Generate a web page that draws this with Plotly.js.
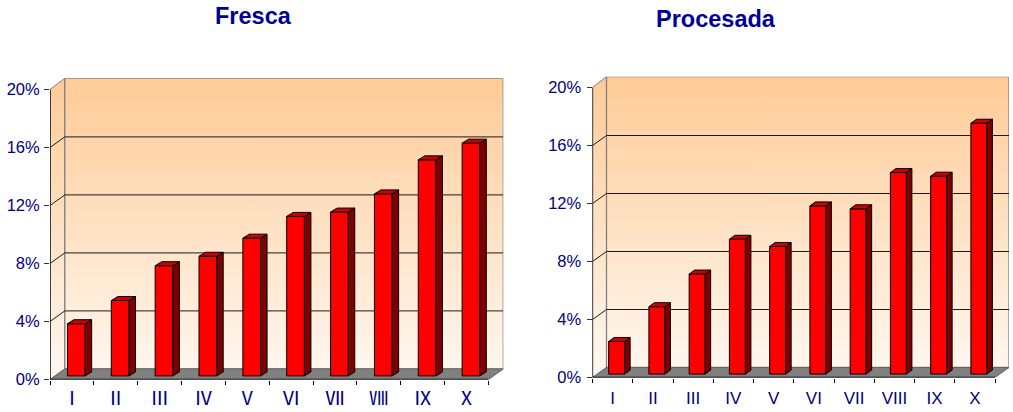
<!DOCTYPE html>
<html>
<head>
<meta charset="utf-8">
<script src="https://cdn.plot.ly/plotly-3.0.1.min.js"></script>
<style>html,body{margin:0;padding:0;background:#fff}#chart{width:1013px;height:412px}</style>
</head>
<body>
<div id="chart"></div>
<script>
var titleFresca = 'Fresca';
var titleProcesada = 'Procesada';
var labelsFresca = ['Ⅰ','Ⅱ','Ⅲ','Ⅳ','V','Ⅵ','Ⅶ','Ⅷ','Ⅸ','Ⅹ'];
var labelsProcesada = ['I','II','III','IV','V','VI','VII','VIII','IX','X'];
var valuesFresca = [3.6,5.2,7.6,8.25,9.5,11.0,11.3,12.55,14.9,16.05];
var valuesProcesada = [2.25,4.65,6.9,9.3,8.8,11.6,11.4,13.9,13.65,17.3];
var yTicks = [0,4,8,12,16,20];
var yTickText = ['0%','4%','8%','12%','16%','20%'];

var W = 1013, H = 412, NAVY = '#000080';
var traces = [], annotations = [];
var layout = {
  width: W, height: H, margin: {l:0,r:0,t:0,b:0,pad:0},
  paper_bgcolor: '#fff', plot_bgcolor: 'rgba(0,0,0,0)',
  showlegend: false, hovermode: false, barmode: 'overlay',
  font: {family: '"Liberation Sans", Arial, sans-serif', color: NAVY}
};

function panel(n, o) {
  var sx = n === 0 ? 'x' : 'x2', sy = n === 0 ? 'y' : 'y2';
  var ox = n === 0 ? 'x3' : 'x4', oy = n === 0 ? 'y3' : 'y4';
  var catW = (o.frontRight - o.left) / 10, pct = o.pxPerPct;
  var dx = (o.backRight - o.frontRight) / catW, dy = o.depthY / pct;
  var xMax = (o.backRight - o.left) / catW, yMax = (o.bottom - o.top) / pct;
  var xDom = [o.left / W, o.backRight / W], yDom = [(H - o.bottom) / H, (H - o.top) / H];

  function poly(xs, ys, extra) {
    var t = {type:'scatter', mode:'lines', x:xs, y:ys, xaxis:sx, yaxis:sy, cliponaxis:false, hoverinfo:'skip'};
    for (var k in extra) t[k] = extra[k];
    traces.push(t);
  }
  var grad = {type:'vertical', start:0, stop:yMax,
    colorscale:[[0,'#FFF8F1'],[1,'#FFCB97']]};
  poly([0,dx,dx,0,0],[0,dy,yMax,20,0], {fill:'toself', fillgradient:grad, line:{color:'#808080',width:1}});
  poly([dx,xMax,xMax,dx,dx],[dy,dy,yMax,yMax,dy], {fill:'toself', fillgradient:grad, line:{color:'#808080',width:1.3}});
  yTicks.slice(1,5).forEach(function(v){
    poly([0,dx,xMax],[v,v+dy,v+dy],{line:{color:'#1a1a1a',width:1}});
  });
  poly([0,10,xMax,dx,0],[0,0,dy,dy,0],{fill:'toself',fillcolor:'#808080',line:{color:'#666',width:1}});
  poly([0,0],[0,20],{line:{color:'#000',width:1.3}});
  poly([0,10],[0,0],{line:{color:'#000',width:1.3}});

  var bw = o.barPx / catW, sh = 0.1, bs = o.barBase / pct;
  var ddx = o.sidePx / catW, ddy = 4 / pct;
  var cx = o.values.map(function(_, i){ return i + 0.5 + sh; });
  traces.push({type:'bar', x:cx, y:o.values, base:o.values.map(function(){return bs;}), width:bw,
    xaxis:ox, yaxis:oy, marker:{color:'#FF0000', line:{color:'#000',width:1}}, hoverinfo:'skip'});
  var sX=[],sY=[],tX=[],tY=[];
  o.values.forEach(function(v,i){
    var l=cx[i]-bw/2, r=cx[i]+bw/2, top=bs+v;
    sX.push(r,r+ddx,r+ddx,r,r,null); sY.push(bs,bs+ddy,top+ddy,top,bs,null);
    tX.push(l,l+ddx,r+ddx,r,l,null); tY.push(top,top+ddy,top+ddy,top,top,null);
  });
  traces.push({type:'scatter',mode:'lines',x:sX,y:sY,xaxis:ox,yaxis:oy,fill:'toself',fillcolor:'#800000',line:{color:'#000',width:1},hoverinfo:'skip',cliponaxis:false});
  traces.push({type:'scatter',mode:'lines',x:tX,y:tY,xaxis:ox,yaxis:oy,fill:'toself',fillcolor:'#CC0000',line:{color:'#000',width:1},hoverinfo:'skip',cliponaxis:false});

  var sfx = n === 0 ? '' : '2';
  var ix = n === 0 ? '3' : '4';
  layout['xaxis'+sfx] = {domain:xDom, range:[0,xMax], anchor:sy, showgrid:false, zeroline:false, showline:false,
    tickmode:'array', tickvals:o.labels.map(function(_,i){return i+0.5;}), ticktext:o.labels, ticks:'',
    ticklabelstandoff:o.standoff, tickfont:{size:o.xFont,color:NAVY,family:o.xFamily},
    minor:{tickmode:'array', tickvals:[0,1,2,3,4,5,6,7,8,9,10], ticks:'outside', ticklen:4, tickcolor:'#000', tickwidth:1, showgrid:false}};
  layout['yaxis'+sfx] = {domain:yDom, range:[0,yMax], anchor:sx, showgrid:false, zeroline:false, showline:false,
    tickmode:'array', tickvals:yTicks, ticktext:yTickText, ticks:'outside', ticklen:5, tickcolor:'#333', tickwidth:1,
    ticklabelstandoff:o.yStandoff, tickfont:{size:16.5,color:NAVY}};
  layout['xaxis'+ix] = {domain:xDom, range:[0,xMax], overlaying:sx, anchor:oy, visible:false};
  layout['yaxis'+ix] = {domain:yDom, range:[0,yMax], overlaying:sy, anchor:ox, visible:false};
  annotations.push({xref:'paper',yref:'paper',x:o.titleX/W,y:(H-o.titleY)/H,xanchor:'center',yanchor:'middle',showarrow:false,
    text:'<b>'+o.title+'</b>',font:{size:23.5,color:'#000099'}});
}

panel(0,{left:50,frontRight:488.5,backRight:503.3,bottom:379.5,top:78.3,pxPerPct:14.5,depthY:10.6,
  barPx:17.7,sidePx:6.5,barBase:3.6,values:valuesFresca,labels:labelsFresca,title:titleFresca,titleX:253.5,titleY:16,
  standoff:5,yStandoff:1,xFont:19,xFamily:'"Noto Sans CJK JP","Liberation Sans",sans-serif'});
panel(1,{left:592.5,frontRight:995,backRight:1009,bottom:377.5,top:76.7,pxPerPct:14.5,depthY:10,
  barPx:16,sidePx:5.5,barBase:3.4,values:valuesProcesada,labels:labelsProcesada,title:titleProcesada,titleX:715.5,titleY:19,
  standoff:8,yStandoff:2,xFont:17,xFamily:'"Liberation Sans",Arial,sans-serif'});
layout.annotations = annotations;
Plotly.newPlot('chart', traces, layout, {displayModeBar:false, staticPlot:true});
</script>
</body>
</html>
